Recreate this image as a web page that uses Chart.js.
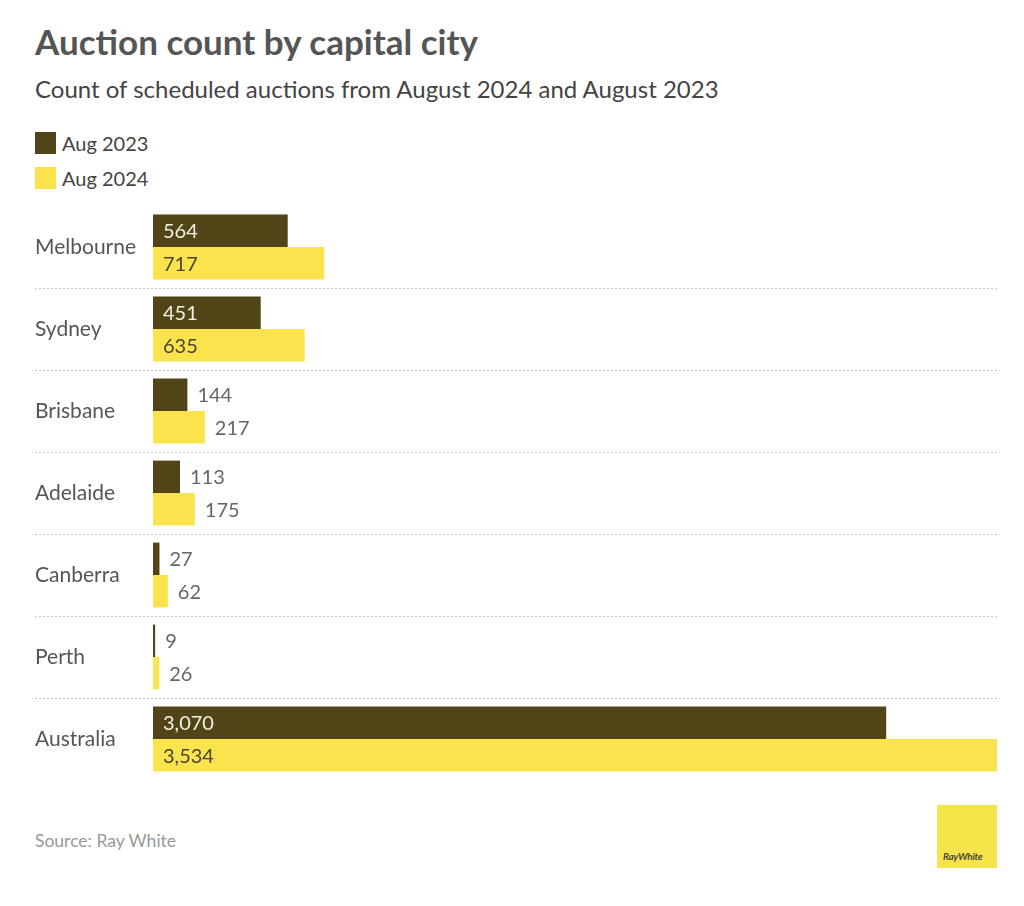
<!DOCTYPE html>
<html>
<head>
<meta charset="utf-8">
<script src="https://cdn.jsdelivr.net/npm/chart.js@4"></script>
<style>
  body { margin: 0; background: #fff; font-family: Lato, "Open Sans", sans-serif; }
  #page { position: relative; width: 1024px; height: 906px; }
  h1 { position: absolute; left: 35px; top: 20px; margin: 0; font-size: 35px; font-weight: 700; color: #555; }
  .sub { position: absolute; left: 35px; top: 74px; font-size: 24px; color: #444; }
  .legend { position: absolute; left: 35px; font-size: 20px; color: #444; display: flex; align-items: center; }
  .legend span.box { display: inline-block; width: 21px; height: 22px; margin-right: 6px; }
  #wrap { position: absolute; left: 0; top: 200px; width: 1024px; height: 580px; }
  .source { position: absolute; left: 35px; top: 830px; font-size: 17.5px; color: #999; }
  .logo { position: absolute; left: 937px; top: 805px; width: 60px; height: 63px; background: #f6e54a; }
  .logo span { position: absolute; left: 6px; bottom: 6px; font-size: 10px; font-weight: 700; font-style: italic; color: #4a4a3a; letter-spacing: -0.3px; }
</style>
</head>
<body>
<div id="page">
  <h1>Auction count by capital city</h1>
  <div class="sub">Count of scheduled auctions from August 2024 and August 2023</div>
  <div class="legend" style="top:131px"><span class="box" style="background:#514416"></span>Aug 2023</div>
  <div class="legend" style="top:166px"><span class="box" style="background:#fae34d"></span>Aug 2024</div>
  <div id="wrap"><canvas id="chart"></canvas></div>
  <div class="source">Source: Ray White</div>
  <div class="logo"><span>RayWhite</span></div>
</div>
<script>
const cities = ["Melbourne", "Sydney", "Brisbane", "Adelaide", "Canberra", "Perth", "Australia"];
const aug2023 = [564, 451, 144, 113, 27, 9, 3070];
const aug2024 = [717, 635, 217, 175, 62, 26, 3534];

const darkColor = "#514416";
const yellowColor = "#fae34d";

// dotted separators between the city rows
const separators = {
  id: "separators",
  beforeDatasetsDraw(chart) {
    const c = chart.ctx;
    const y = chart.scales.y;
    c.save();
    c.strokeStyle = "#c8c8c8";
    c.lineWidth = 1;
    c.setLineDash([2, 2]);
    for (let i = 0; i < cities.length - 1; i++) {
      const py = Math.round((y.getPixelForValue(i) + y.getPixelForValue(i + 1)) / 2) + 0.5;
      c.beginPath();
      c.moveTo(35, py);
      c.lineTo(chart.chartArea.right, py);
      c.stroke();
    }
    c.restore();
  }
};

// value labels inside or after each bar
const valueLabels = {
  id: "valueLabels",
  afterDatasetsDraw(chart) {
    const c = chart.ctx;
    c.save();
    c.font = "20px Lato, sans-serif";
    c.textBaseline = "middle";
    c.textAlign = "left";
    chart.data.datasets.forEach((ds, di) => {
      chart.getDatasetMeta(di).data.forEach((bar, i) => {
        const text = ds.data[i].toLocaleString("en-US");
        const w = bar.x - bar.base;
        if (w > 80) {
          c.fillStyle = di === 0 ? "#f2efe0" : "#4a4530";
          c.fillText(text, bar.base + 10, bar.y + 1);
        } else {
          c.fillStyle = "#666";
          c.fillText(text, bar.x + 10, bar.y + 1);
        }
      });
    });
    c.restore();
  }
};

new Chart(document.getElementById("chart"), {
  type: "bar",
  data: {
    labels: cities,
    datasets: [
      { label: "Aug 2023", data: aug2023, backgroundColor: darkColor },
      { label: "Aug 2024", data: aug2024, backgroundColor: yellowColor }
    ]
  },
  options: {
    indexAxis: "y",
    responsive: true,
    maintainAspectRatio: false,
    animation: false,
    layout: { padding: { left: 35, right: 27, top: 6, bottom: 0 } },
    datasets: { bar: { categoryPercentage: 0.79, barPercentage: 1.0 } },
    plugins: { legend: { display: false }, tooltip: { enabled: false } },
    scales: {
      x: { display: false, min: 0, max: 3534 },
      y: {
        grid: { display: false },
        border: { display: false },
        afterFit(scale) {
          scale.width = 118;
          scale.paddingTop = 0;
          scale.paddingBottom = 0;
        },
        ticks: { crossAlign: "far", color: "#555", font: { family: "Lato", size: 21 } }
      }
    }
  },
  plugins: [separators, valueLabels]
});
</script>
</body>
</html>
